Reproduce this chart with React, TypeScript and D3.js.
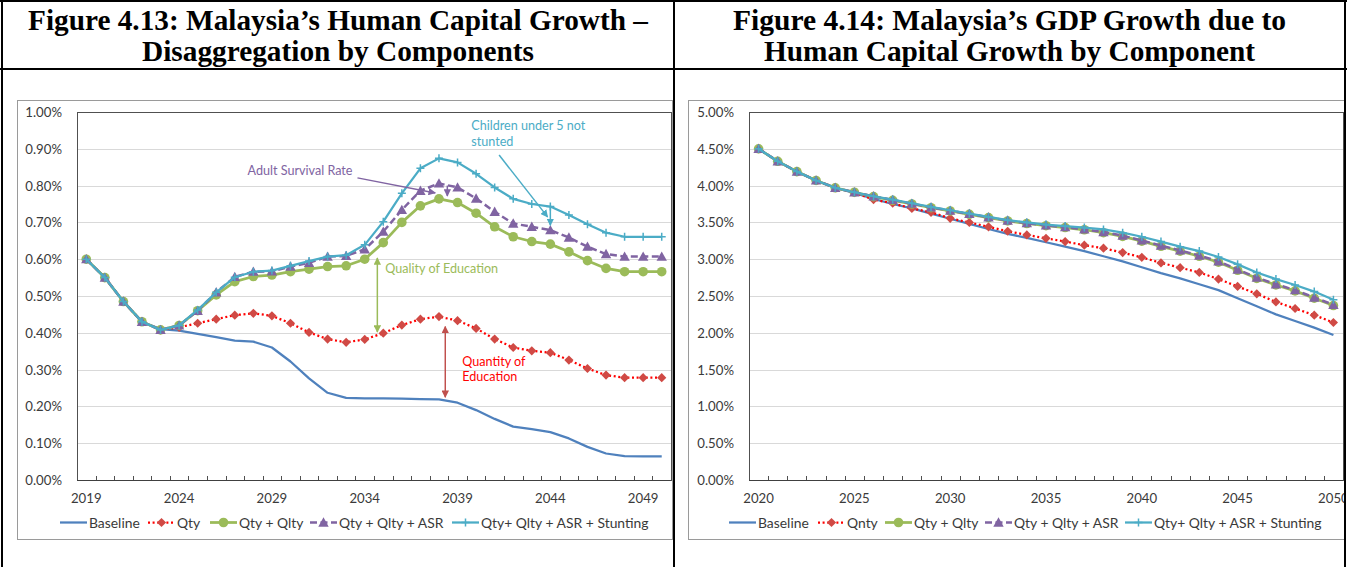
import React from 'react';
import * as d3 from 'd3';

// ---------- DATA ----------
const yearsLeft = [2019, 2020, 2021, 2022, 2023, 2024, 2025, 2026, 2027, 2028, 2029, 2030, 2031, 2032, 2033, 2034, 2035, 2036, 2037, 2038, 2039, 2040, 2041, 2042, 2043, 2044, 2045, 2046, 2047, 2048, 2049, 2050];
const yearsRight = [2020, 2021, 2022, 2023, 2024, 2025, 2026, 2027, 2028, 2029, 2030, 2031, 2032, 2033, 2034, 2035, 2036, 2037, 2038, 2039, 2040, 2041, 2042, 2043, 2044, 2045, 2046, 2047, 2048, 2049, 2050];
const xTickYearsLeft = [2019, 2024, 2029, 2034, 2039, 2044, 2049];
const xTickYearsRight = [2020, 2025, 2030, 2035, 2040, 2045, 2050];
const yTicksLeft = [0, 0.1, 0.2, 0.3, 0.4, 0.5, 0.6, 0.7, 0.8, 0.9, 1.0];
const yTicksRight = [0, 0.5, 1.0, 1.5, 2.0, 2.5, 3.0, 3.5, 4.0, 4.5, 5.0];

const namesLeft = ['Baseline', 'Qty', 'Qty + Qlty', 'Qty + Qlty + ASR', 'Qty+ Qlty + ASR + Stunting'];
const namesRight = ['Baseline', 'Qnty', 'Qty + Qlty', 'Qty + Qlty + ASR', 'Qty+ Qlty + ASR + Stunting'];

// Figure 4.13 (values in %)
const baselineLeft = [0.60, 0.55, 0.485, 0.43, 0.41, 0.406, 0.397, 0.388, 0.379, 0.376, 0.36, 0.322, 0.276, 0.237, 0.223, 0.222, 0.222, 0.221, 0.22, 0.219, 0.21, 0.19, 0.166, 0.145, 0.138, 0.13, 0.113, 0.09, 0.072, 0.065, 0.064, 0.064];
const qtyLeft = [0.60, 0.55, 0.485, 0.43, 0.408, 0.415, 0.426, 0.437, 0.448, 0.453, 0.446, 0.426, 0.401, 0.383, 0.374, 0.382, 0.399, 0.421, 0.437, 0.444, 0.433, 0.412, 0.383, 0.36, 0.351, 0.346, 0.326, 0.303, 0.285, 0.278, 0.278, 0.278];
const qltyLeft = [0.60, 0.55, 0.485, 0.43, 0.408, 0.42, 0.46, 0.503, 0.539, 0.553, 0.557, 0.566, 0.573, 0.58, 0.582, 0.60, 0.645, 0.70, 0.745, 0.764, 0.754, 0.725, 0.688, 0.661, 0.648, 0.641, 0.62, 0.596, 0.575, 0.566, 0.566, 0.566];
const asrLeft = [0.60, 0.55, 0.485, 0.43, 0.408, 0.42, 0.46, 0.51, 0.552, 0.566, 0.567, 0.58, 0.59, 0.607, 0.609, 0.627, 0.675, 0.734, 0.786, 0.806, 0.795, 0.765, 0.729, 0.697, 0.688, 0.679, 0.659, 0.634, 0.614, 0.607, 0.607, 0.607];
const stuntLeft = [0.60, 0.55, 0.485, 0.43, 0.408, 0.42, 0.462, 0.51, 0.551, 0.566, 0.569, 0.582, 0.595, 0.607, 0.611, 0.639, 0.702, 0.779, 0.847, 0.874, 0.863, 0.832, 0.795, 0.764, 0.75, 0.743, 0.72, 0.695, 0.672, 0.661, 0.661, 0.661];

// Figure 4.14 (values in %)
const baselineRight = [4.50, 4.33, 4.19, 4.07, 3.97, 3.90, 3.82, 3.75, 3.69, 3.62, 3.55, 3.48, 3.41, 3.345, 3.29, 3.23, 3.17, 3.11, 3.04, 2.97, 2.89, 2.81, 2.74, 2.66, 2.58, 2.47, 2.36, 2.25, 2.16, 2.07, 1.97];
const qntyRight = [4.50, 4.33, 4.19, 4.07, 3.97, 3.905, 3.81, 3.76, 3.69, 3.637, 3.555, 3.50, 3.44, 3.38, 3.33, 3.283, 3.24, 3.19, 3.15, 3.09, 3.025, 2.95, 2.885, 2.82, 2.73, 2.63, 2.53, 2.42, 2.33, 2.24, 2.14];
const qltyRight = [4.50, 4.33, 4.19, 4.07, 3.97, 3.91, 3.85, 3.80, 3.75, 3.70, 3.655, 3.61, 3.565, 3.52, 3.485, 3.455, 3.43, 3.40, 3.36, 3.31, 3.245, 3.175, 3.11, 3.04, 2.96, 2.85, 2.74, 2.65, 2.57, 2.47, 2.37];
const asrRight = [4.50, 4.33, 4.19, 4.07, 3.97, 3.91, 3.855, 3.805, 3.755, 3.705, 3.66, 3.615, 3.57, 3.525, 3.49, 3.46, 3.435, 3.405, 3.37, 3.32, 3.255, 3.185, 3.12, 3.05, 2.97, 2.86, 2.75, 2.66, 2.58, 2.48, 2.38];
const stuntRight = [4.50, 4.33, 4.19, 4.07, 3.97, 3.91, 3.855, 3.81, 3.76, 3.71, 3.665, 3.62, 3.575, 3.53, 3.50, 3.47, 3.45, 3.43, 3.405, 3.36, 3.305, 3.24, 3.17, 3.11, 3.03, 2.93, 2.82, 2.73, 2.65, 2.56, 2.45];

// Annotations of Figure 4.13, in data coordinates (year, %)
const annoTextsLeft = [
  { text: 'Children under 5 not', year: 2039.74, value: 0.962, color: '#4BACC6' },
  { text: 'stunted', year: 2039.74, value: 0.921, color: '#4BACC6' },
  { text: 'Adult Survival Rate', year: 2027.69, value: 0.84, color: '#8064A2' },
  { text: 'Quality of Education', year: 2035.11, value: 0.576, color: '#9BBB59' },
  { text: 'Quantity of', year: 2039.25, value: 0.321, color: '#FF0000' },
  { text: 'Education', year: 2039.25, value: 0.28, color: '#FF0000' },
];
const annoArrowsLeft = [
  { y1: 2041.24, v1: 0.883, y2: 2043.85, v2: 0.715, color: '#4BACC6', both: false },
  { y1: 2044, v1: 0.743, y2: 2044, v2: 0.692, color: '#4BACC6', both: false },
  { y1: 2033.61, v1: 0.821, y2: 2037.8, v2: 0.78, color: '#8064A2', both: false },
  { y1: 2038.45, v1: 0.80, y2: 2038.45, v2: 0.772, color: '#8064A2', both: false },
  { y1: 2034.68, v1: 0.603, y2: 2034.68, v2: 0.402, color: '#9BBB59', both: true },
  { y1: 2038.34, v1: 0.417, y2: 2038.34, v2: 0.225, color: '#C0504D', both: true },
];

// ---------- STYLES ----------
const seriesStyles = [
  { color: '#4F81BD', width: 2.25, dash: undefined as string | undefined, marker: 'none', markerColor: '#4F81BD' },
  { color: '#FF0000', width: 2.25, dash: '2 2.6', marker: 'diamond', markerColor: '#D04A45' },
  { color: '#9BBB59', width: 2.75, dash: undefined, marker: 'circle', markerColor: '#9BBB59' },
  { color: '#8064A2', width: 2.5, dash: '7 3.5', marker: 'triangle', markerColor: '#8064A2' },
  { color: '#4BACC6', width: 2.25, dash: undefined, marker: 'plus', markerColor: '#4BACC6' },
];

const FONT = "Lato, 'Open Sans', sans-serif";
const TEXT_COLOR = '#3a3a3a';

function Marker({ kind, x, y, color }: { kind: string; x: number; y: number; color: string }) {
  if (kind === 'circle') return <circle cx={x} cy={y} r={4.8} fill={color} />;
  if (kind === 'diamond') {
    const s = 4.6;
    return <path d={`M${x},${y - s}L${x + s},${y}L${x},${y + s}L${x - s},${y}Z`} fill={color} />;
  }
  if (kind === 'triangle') {
    const s = 5.2;
    return <path d={`M${x},${y - s}L${x + s},${y + s * 0.8}L${x - s},${y + s * 0.8}Z`} fill={color} />;
  }
  if (kind === 'plus') {
    const s = 4;
    return <path d={`M${x - s},${y}H${x + s}M${x},${y - s}V${y + s}`} stroke={color} strokeWidth={1.5} fill="none" />;
  }
  return null;
}

type ChartProps = {
  id: string;
  years: number[];
  data: number[][];
  names: string[];
  yMax: number;
  yTicks: number[];
  xTickYears: number[];
  box: [number, number, number, number];
  plot: [number, number, number, number];
  legendX: number[];
  texts?: typeof annoTextsLeft;
  arrows?: typeof annoArrowsLeft;
};

function Chart(p: ChartProps) {
  const [bx0, by0, bx1, by1] = p.box;
  const [px0, py0, px1, py1] = p.plot;
  const x = d3.scaleBand<number>().domain(p.years).range([px0, px1]).padding(0);
  const cx = (yr: number) => (x(yr) as number) + x.bandwidth() / 2;
  const xf = (yr: number) => cx(p.years[0]) + (yr - p.years[0]) * x.step();
  const y = d3.scaleLinear().domain([0, p.yMax]).range([py1, py0]);
  const fmt = d3.format('.2%');
  const line = d3.line<number>().x((_, i) => cx(p.years[i])).y((d) => y(d));
  const tickXs = [...p.years.map((yr) => x(yr) as number), px1];
  const legendY = 522.5;
  const colorKey = (c: string) => c.replace('#', '');
  const arrowColors = Array.from(new Set((p.arrows || []).map((a) => a.color)));

  return (
    <g fontFamily={FONT}>
      <defs>
        {arrowColors.map((c) => (
          <marker key={c} id={`ah-${p.id}-${colorKey(c)}`} viewBox="0 0 10 10" refX="9" refY="5" markerWidth="5" markerHeight="5" orient="auto-start-reverse">
            <path d="M0,0L10,5L0,10Z" fill={c} />
          </marker>
        ))}
      </defs>
      <rect x={bx0 + 0.5} y={by0 + 0.5} width={bx1 - bx0} height={by1 - by0} fill="#fff" stroke="#9a9a9a" strokeWidth={1} />
      {p.yTicks.map((t) => (
        <line key={`g${t}`} x1={px0} x2={px1} y1={Math.round(y(t)) + 0.5} y2={Math.round(y(t)) + 0.5} stroke="#d9d9d9" strokeWidth={1} />
      ))}
      <rect x={px0 + 0.5} y={py0 + 0.5} width={px1 - px0} height={py1 - py0} fill="none" stroke="#505050" strokeWidth={1} />
      {tickXs.map((tx, i) => (
        <line key={`t${i}`} x1={Math.round(tx) + 0.5} x2={Math.round(tx) + 0.5} y1={py1} y2={py1 - 4} stroke="#505050" strokeWidth={1} />
      ))}
      <line x1={px0} x2={px1} y1={py1 + 0.5} y2={py1 + 0.5} stroke="#404040" strokeWidth={1.2} />
      {p.yTicks.map((t) => (
        <text key={`yl${t}`} x={px0 - 15} y={y(t)} textAnchor="end" dominantBaseline="central" fontSize={13.2} fill={TEXT_COLOR}>
          {fmt(t / 100)}
        </text>
      ))}
      {p.xTickYears.map((yr) => (
        <text key={`xl${yr}`} x={cx(yr)} y={498} textAnchor="middle" dominantBaseline="central" fontSize={13.2} fill={TEXT_COLOR}>
          {yr}
        </text>
      ))}
      {p.data.map((vals, si) => {
        const st = seriesStyles[si];
        return (
          <g key={`s${si}`}>
            <path d={line(vals) || ''} fill="none" stroke={st.color} strokeWidth={st.width} strokeDasharray={st.dash} strokeLinejoin="round" />
            {vals.map((v, i) => (
              <Marker key={i} kind={st.marker} x={cx(p.years[i])} y={y(v)} color={st.markerColor} />
            ))}
          </g>
        );
      })}
      {(p.arrows || []).map((a, i) => (
        <line
          key={`a${i}`}
          x1={xf(a.y1)}
          y1={y(a.v1)}
          x2={xf(a.y2)}
          y2={y(a.v2)}
          stroke={a.color}
          strokeWidth={1.5}
          markerEnd={`url(#ah-${p.id}-${colorKey(a.color)})`}
          markerStart={a.both ? `url(#ah-${p.id}-${colorKey(a.color)})` : undefined}
        />
      ))}
      {(p.texts || []).map((t, i) => (
        <text key={`at${i}`} x={xf(t.year)} y={y(t.value)} dominantBaseline="central" fontSize={12.6} fill={t.color}>
          {t.text}
        </text>
      ))}
      {p.names.map((n, si) => {
        const st = seriesStyles[si];
        const lx = p.legendX[si];
        return (
          <g key={`lg${si}`}>
            <line x1={lx} x2={lx + 27} y1={legendY} y2={legendY} stroke={st.color} strokeWidth={st.width} strokeDasharray={st.dash} />
            <Marker kind={st.marker} x={lx + 13.5} y={legendY} color={st.markerColor} />
            <text x={lx + 29} y={legendY} dominantBaseline="central" fontSize={13.9} fill={TEXT_COLOR}>
              {n}
            </text>
          </g>
        );
      })}
    </g>
  );
}

export default function App() {
  const titleStyle = { fontFamily: "'Liberation Serif', 'Times New Roman', serif", fontWeight: 700, fontSize: 30 } as const;
  return (
    <svg width={1347} height={567} style={{ position: 'absolute', left: 0, top: 0, background: '#fff' }}>
      <defs>
        <clipPath id="rightClip">
          <rect x={675} y={70} width={669} height={497} />
        </clipPath>
      </defs>
      <rect x={0} y={0} width={1347} height={567} fill="#fff" />

      <text x={28} y={30} textLength={620} lengthAdjust="spacingAndGlyphs" {...titleStyle}>Figure 4.13: Malaysia’s Human Capital Growth –</text>
      <text x={142} y={61} textLength={392} lengthAdjust="spacingAndGlyphs" {...titleStyle}>Disaggregation by Components</text>
      <text x={733} y={30} textLength={553} lengthAdjust="spacingAndGlyphs" {...titleStyle}>Figure 4.14: Malaysia’s GDP Growth due to</text>
      <text x={764} y={61} textLength={491} lengthAdjust="spacingAndGlyphs" {...titleStyle}>Human Capital Growth by Component</text>

      <Chart
        id="L"
        years={yearsLeft}
        data={[baselineLeft, qtyLeft, qltyLeft, asrLeft, stuntLeft]}
        names={namesLeft}
        yMax={1.0}
        yTicks={yTicksLeft}
        xTickYears={xTickYearsLeft}
        box={[17, 100, 672, 539]}
        plot={[77, 112, 671, 480]}
        legendX={[60, 148, 210, 310, 452]}
        texts={annoTextsLeft}
        arrows={annoArrowsLeft}
      />
      <g clipPath="url(#rightClip)">
        <Chart
          id="R"
          years={yearsRight}
          data={[baselineRight, qntyRight, qltyRight, asrRight, stuntRight]}
          names={namesRight}
          yMax={5.0}
          yTicks={yTicksRight}
          xTickYears={xTickYearsRight}
          box={[688, 100, 1360, 539]}
          plot={[749, 112, 1343, 480]}
          legendX={[729, 818, 885, 985, 1125]}
        />
      </g>

      {/* table borders */}
      <line x1={0} x2={1347} y1={1} y2={1} stroke="#000" strokeWidth={2} />
      <line x1={0} x2={1347} y1={69} y2={69} stroke="#000" strokeWidth={2} />
      <line x1={2} x2={2} y1={0} y2={567} stroke="#000" strokeWidth={2} />
      <line x1={674} x2={674} y1={0} y2={567} stroke="#000" strokeWidth={2} />
      <line x1={1345} x2={1345} y1={0} y2={567} stroke="#000" strokeWidth={2} />
    </svg>
  );
}
